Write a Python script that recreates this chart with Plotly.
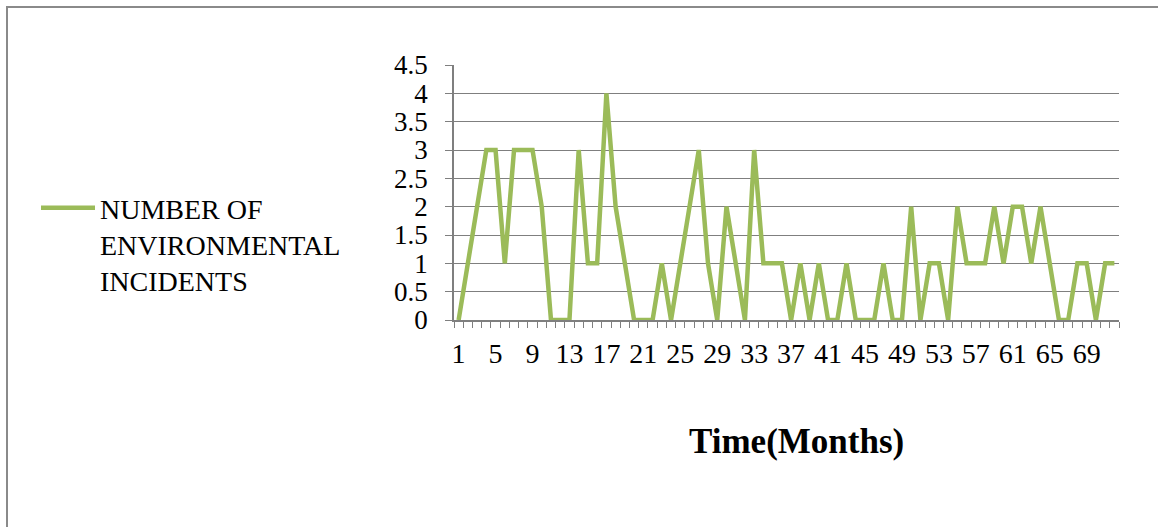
import plotly.graph_objects as go

# Monthly count of environmental incidents, months 1..72
months = list(range(1, 73))
incidents = [
    0, 1, 2, 3, 3, 1, 3, 3, 3, 2, 0, 0, 0, 3, 1, 1, 4, 2, 1, 0,
    0, 0, 1, 0, 1, 2, 3, 1, 0, 2, 1, 0, 3, 1, 1, 1, 0, 1, 0, 1,
    0, 0, 1, 0, 0, 0, 1, 0, 0, 2, 0, 1, 1, 0, 2, 1, 1, 1, 2, 1,
    2, 2, 1, 2, 1, 0, 0, 1, 1, 0, 1, 1,
]
x_tick_labels = list(range(1, 70, 4))
y_ticks = [0, 0.5, 1, 1.5, 2, 2.5, 3, 3.5, 4, 4.5]

series_name = "NUMBER OF<br>ENVIRONMENTAL<br>INCIDENTS"
line_color = "#9BBB59"
grid_color = "#7f7f7f"
font_family = "Liberation Serif, Times New Roman, serif"

W, H = 1158, 527
L, R, T, B = 454, 1119, 65, 320  # plot area in pixels

fig = go.Figure()
fig.add_trace(go.Scatter(
    x=months, y=incidents, mode="lines", name=series_name,
    line=dict(color=line_color, width=4.5),
))

def px_x(p):
    return (p - L) / (R - L)

def px_y(p):
    return (B - p) / (B - T)

fig.update_layout(
    width=W, height=H,
    margin=dict(l=L, r=W - R, t=T, b=H - B, autoexpand=False),
    paper_bgcolor="white", plot_bgcolor="white",
    font=dict(family=font_family, size=27, color="black"),
    showlegend=True,
    legend=dict(
        x=px_x(36), y=px_y(183), xanchor="left", yanchor="top",
        valign="top", font=dict(size=28, family=font_family),
        itemwidth=54, tracegroupgap=0, bgcolor="rgba(0,0,0,0)",
    ),
    xaxis=dict(
        range=[0.5, 72.5], tickmode="array", tickvals=x_tick_labels,
        ticktext=[str(v) for v in x_tick_labels],
        ticks="", showgrid=False, zeroline=False,
        showline=True, linecolor=grid_color, linewidth=1.5,
        ticklabelstandoff=8, tickfont=dict(size=28),
        minor=dict(tickmode="linear", tick0=0.5, dtick=1, ticks="outside",
                   ticklen=6, tickcolor=grid_color, tickwidth=1, showgrid=False),
    ),
    yaxis=dict(
        range=[0, 4.5], tickmode="array", tickvals=y_ticks,
        ticktext=[f"{v:g}" for v in y_ticks],
        ticks="outside", ticklen=7, tickcolor=grid_color, tickwidth=1,
        showgrid=True, gridcolor=grid_color, gridwidth=1.3,
        zeroline=False, showline=True, linecolor=grid_color, linewidth=1.5,
        ticklabelstandoff=12,
    ),
    shapes=[
        dict(type="rect", xref="paper", yref="paper",
             x0=px_x(7), x1=px_x(W + 40), y0=px_y(H + 40), y1=px_y(7),
             line=dict(color="#8a8a8a", width=2), fillcolor="rgba(0,0,0,0)",
             layer="below"),
    ],
    annotations=[
        dict(text="<b>Time(Months)</b>", xref="paper", yref="paper",
             x=px_x(796), y=px_y(441), xanchor="center", yanchor="middle",
             showarrow=False, font=dict(size=35, family=font_family, color="black")),
    ],
)

fig.write_html("out.html")
